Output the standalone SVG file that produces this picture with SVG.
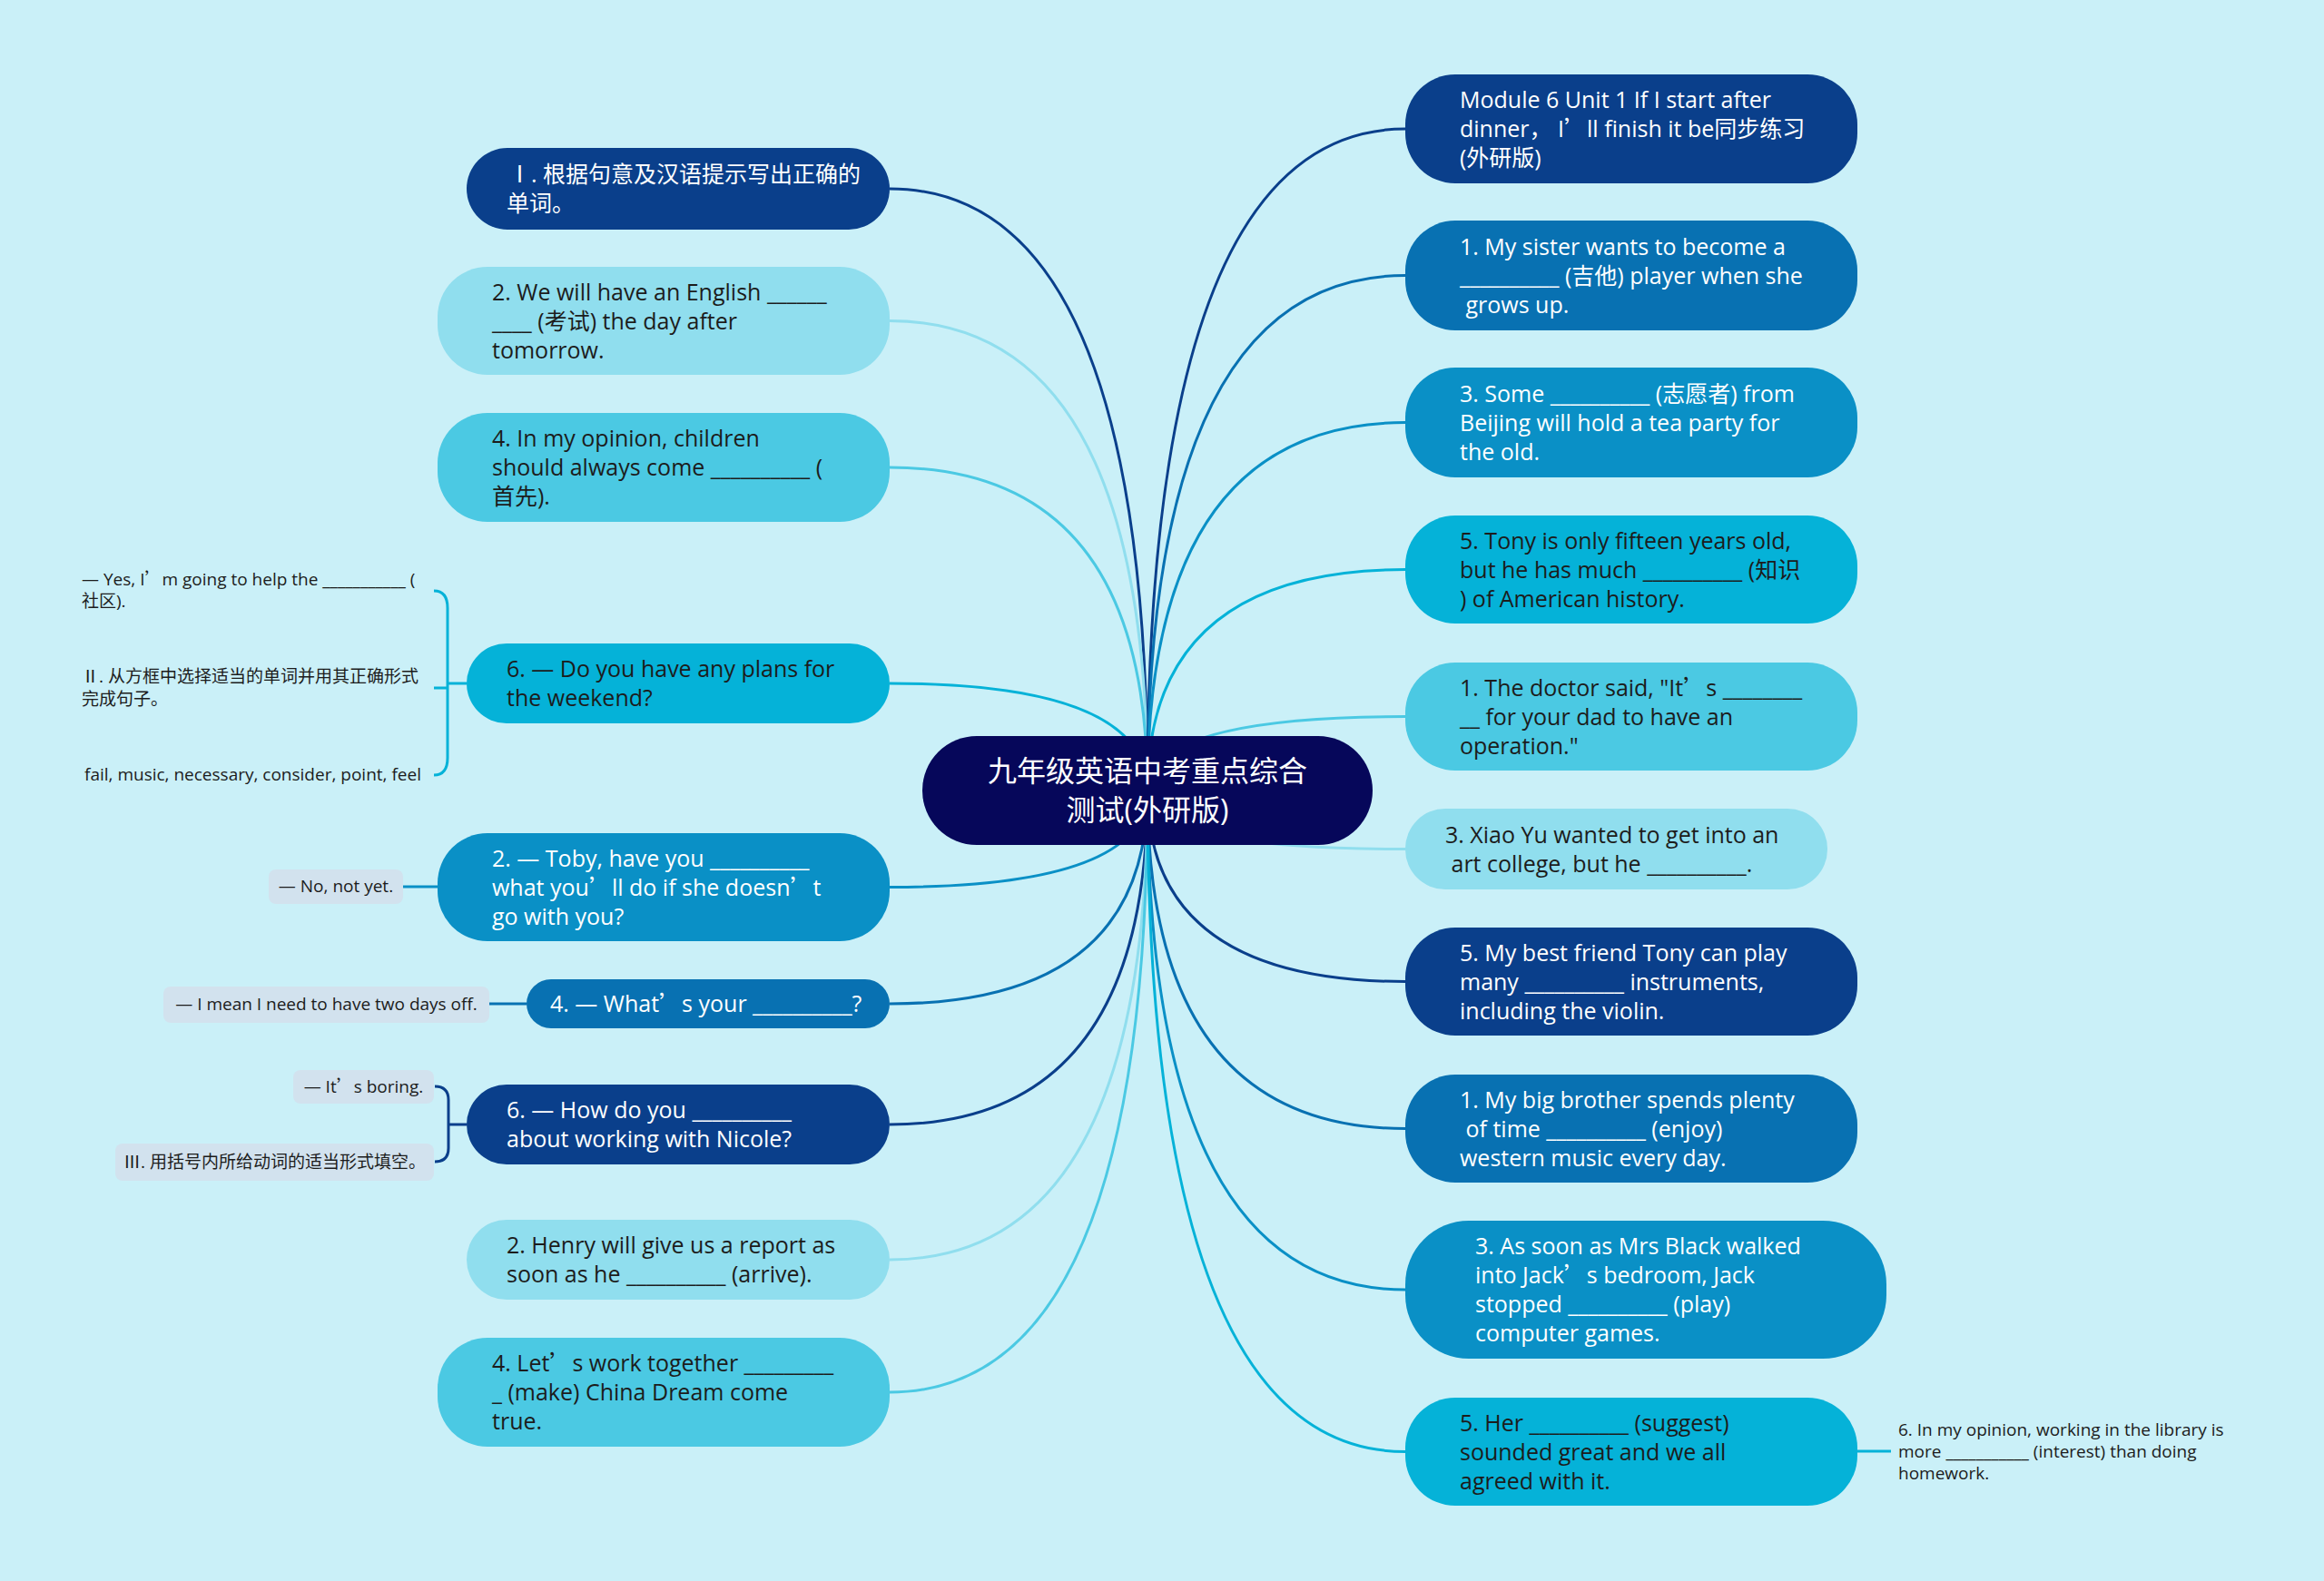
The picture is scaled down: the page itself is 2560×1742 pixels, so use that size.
<svg xmlns="http://www.w3.org/2000/svg" width="2560" height="1742" viewBox="0 0 2560 1742">
<style>
text{font-family:"Open Sans","Noto Sans CJK SC",sans-serif}
.t{font-size:25px}
.w{fill:#ffffff}
.d{fill:#1c1c1c}
.s{font-size:19px;fill:#1c1c1c}
.q{font-family:"Noto Sans CJK SC",sans-serif}
.ln{fill:none;stroke-width:3}
.c1{fill:#0a3f8b}.c2{fill:#0871b2}.c3{fill:#0a90c6}.c4{fill:#05b2d8}.c5{fill:#4bc9e3}.c6{fill:#90deee}
.k1{stroke:#0a3f8b}.k2{stroke:#0871b2}.k3{stroke:#0a90c6}.k4{stroke:#05b2d8}.k5{stroke:#4bc9e3}.k6{stroke:#90deee}
.box{fill:#d2e2ee}
</style>
<rect x="0" y="0" width="2560" height="1742" fill="#caf0f8"/>
<g id="connectors">
<path class="ln k1" d="M1264 871 Q1264 208 980 208"/>
<path class="ln k6" d="M1264 871 Q1264 353.5 980 353.5"/>
<path class="ln k5" d="M1264 871 Q1264 515 980 515"/>
<path class="ln k4" d="M1264 871 Q1264 753 980 753"/>
<path class="ln k3" d="M1264 871 Q1264 977.5 980 977.5"/>
<path class="ln k2" d="M1264 871 Q1264 1106 980 1106"/>
<path class="ln k1" d="M1264 871 Q1264 1239 980 1239"/>
<path class="ln k6" d="M1264 871 Q1264 1388 980 1388"/>
<path class="ln k5" d="M1264 871 Q1264 1534 980 1534"/>
<path class="ln k1" d="M1264 871 Q1264 142 1548 142"/>
<path class="ln k2" d="M1264 871 Q1264 303.5 1548 303.5"/>
<path class="ln k3" d="M1264 871 Q1264 465.5 1548 465.5"/>
<path class="ln k4" d="M1264 871 Q1264 627.5 1548 627.5"/>
<path class="ln k5" d="M1264 871 Q1264 789.5 1548 789.5"/>
<path class="ln k6" d="M1264 871 Q1264 935.5 1548 935.5"/>
<path class="ln k1" d="M1264 871 Q1264 1081.5 1548 1081.5"/>
<path class="ln k2" d="M1264 871 Q1264 1243.5 1548 1243.5"/>
<path class="ln k3" d="M1264 871 Q1264 1421 1548 1421"/>
<path class="ln k4" d="M1264 871 Q1264 1599.5 1548 1599.5"/>
<path class="ln k4" d="M514 753 L493 753 M493 753 L493 670 Q493 651 478 651 M493 758 L478 758 M493 753 L493 835 Q493 854 478 854"/>
<path class="ln k3" d="M482 977 L444 977"/>
<path class="ln k2" d="M580 1106 L539 1106"/>
<path class="ln k1" d="M514 1239 L494 1239 M494 1239 L494 1212 Q494 1197 479 1197 M494 1239 L494 1265 Q494 1280 479 1280"/>
<path class="ln k4" d="M2046 1599 L2083 1599"/>
</g>
<g id="center">
<rect x="1016" y="811" width="496" height="120" rx="60" fill="#06075a"/>
<text x="1264" y="861" font-size="32" fill="#ffffff" text-anchor="middle">九年级英语中考重点综合</text>
<text x="1264" y="904" font-size="32" fill="#ffffff" text-anchor="middle">测试(外研版)</text>
</g>
<g id="n1">
<rect class="c1" x="514" y="163" width="466" height="90" rx="45"/>
<text class="t w"><tspan x="560" y="201">Ⅰ. 根据句意及汉语提示写出正确的</tspan><tspan x="558" y="233">单词。</tspan></text>
</g>
<g id="n2">
<rect class="c6" x="482" y="294" width="498" height="119" rx="55"/>
<text class="t d"><tspan x="542" y="330.5">2. We will have an English ______</tspan><tspan x="542" y="362.5">____ (考试) the day after</tspan><tspan x="542" y="394.5">tomorrow.</tspan></text>
</g>
<g id="n3">
<rect class="c5" x="482" y="455" width="498" height="120" rx="55"/>
<text class="t d"><tspan x="542" y="492">4. In my opinion, children</tspan><tspan x="542" y="524">should always come __________ (</tspan><tspan x="542" y="556">首先).</tspan></text>
</g>
<g id="n4">
<rect class="c4" x="514" y="709" width="466" height="88" rx="44"/>
<text class="t d"><tspan x="558" y="746">6. — Do you have any plans for</tspan><tspan x="558" y="778">the weekend?</tspan></text>
</g>
<g id="n4a">
<text class="s"><tspan x="90" y="645">— Yes, I<tspan class="q">’</tspan>m going to help the ___________ (</tspan><tspan x="90" y="669">社区).</tspan></text>
</g>
<g id="n4b">
<text class="s"><tspan x="90" y="752">Ⅱ. 从方框中选择适当的单词并用其正确形式</tspan><tspan x="90" y="777">完成句子。</tspan></text>
</g>
<g id="n4c">
<text class="s" x="93" y="860">fail, music, necessary, consider, point, feel</text>
</g>
<g id="n5">
<rect class="c3" x="482" y="918" width="498" height="119" rx="55"/>
<text class="t w"><tspan x="542" y="954.5">2. — Toby, have you __________</tspan><tspan x="542" y="986.5">what you<tspan class="q">’</tspan>ll do if she doesn<tspan class="q">’</tspan>t</tspan><tspan x="542" y="1018.5">go with you?</tspan></text>
</g>
<g id="n5a">
<rect class="box" x="296" y="958" width="148" height="38" rx="8"/>
<text class="s" x="370" y="983" text-anchor="middle">— No, not yet.</text>
</g>
<g id="n6">
<rect class="c2" x="580" y="1079" width="400" height="54" rx="27"/>
<text class="t w" x="606" y="1115">4. — What<tspan class="q">’</tspan>s your __________?</text>
</g>
<g id="n6a">
<rect class="box" x="180" y="1087" width="359" height="40" rx="8"/>
<text class="s" x="359.5" y="1113" text-anchor="middle">— I mean I need to have two days off.</text>
</g>
<g id="n7">
<rect class="c1" x="514" y="1195" width="466" height="88" rx="44"/>
<text class="t w"><tspan x="558" y="1232">6. — How do you __________</tspan><tspan x="558" y="1264">about working with Nicole?</tspan></text>
</g>
<g id="n7a">
<rect class="box" x="323" y="1179" width="155" height="37" rx="8"/>
<text class="s" x="400.5" y="1204" text-anchor="middle">— It<tspan class="q">’</tspan>s boring.</text>
</g>
<g id="n7b">
<rect class="box" x="127" y="1260" width="351" height="41" rx="8"/>
<text class="s" x="302.5" y="1287" text-anchor="middle">Ⅲ. 用括号内所给动词的适当形式填空。</text>
</g>
<g id="n8">
<rect class="c6" x="514" y="1344" width="466" height="88" rx="44"/>
<text class="t d"><tspan x="558" y="1381">2. Henry will give us a report as</tspan><tspan x="558" y="1413">soon as he __________ (arrive).</tspan></text>
</g>
<g id="n9">
<rect class="c5" x="482" y="1474" width="498" height="120" rx="55"/>
<text class="t d"><tspan x="542" y="1511">4. Let<tspan class="q">’</tspan>s work together _________</tspan><tspan x="542" y="1543">_ (make) China Dream come</tspan><tspan x="542" y="1575">true.</tspan></text>
</g>
<g id="r1">
<rect class="c1" x="1548" y="82" width="498" height="120" rx="55"/>
<text class="t w"><tspan x="1608" y="119">Module 6 Unit 1 If I start after</tspan><tspan x="1608" y="151">dinner， I<tspan class="q">’</tspan>ll finish it be同步练习</tspan><tspan x="1608" y="183">(外研版)</tspan></text>
</g>
<g id="r2">
<rect class="c2" x="1548" y="243" width="498" height="121" rx="55"/>
<text class="t w"><tspan x="1608" y="280.5">1. My sister wants to become a</tspan><tspan x="1608" y="312.5">__________ (吉他) player when she</tspan><tspan x="1608" y="344.5"> grows up.</tspan></text>
</g>
<g id="r3">
<rect class="c3" x="1548" y="405" width="498" height="121" rx="55"/>
<text class="t w"><tspan x="1608" y="442.5">3. Some __________ (志愿者) from</tspan><tspan x="1608" y="474.5">Beijing will hold a tea party for</tspan><tspan x="1608" y="506.5">the old.</tspan></text>
</g>
<g id="r4">
<rect class="c4" x="1548" y="568" width="498" height="119" rx="55"/>
<text class="t d"><tspan x="1608" y="604.5">5. Tony is only fifteen years old,</tspan><tspan x="1608" y="636.5">but he has much __________ (知识</tspan><tspan x="1608" y="668.5">) of American history.</tspan></text>
</g>
<g id="r5">
<rect class="c5" x="1548" y="730" width="498" height="119" rx="55"/>
<text class="t d"><tspan x="1608" y="766.5">1. The doctor said, "It<tspan class="q">’</tspan>s ________</tspan><tspan x="1608" y="798.5">__ for your dad to have an</tspan><tspan x="1608" y="830.5">operation."</tspan></text>
</g>
<g id="r6">
<rect class="c6" x="1548" y="891" width="465" height="89" rx="44"/>
<text class="t d"><tspan x="1592" y="928.5">3. Xiao Yu wanted to get into an</tspan><tspan x="1592" y="960.5"> art college, but he __________.</tspan></text>
</g>
<g id="r7">
<rect class="c1" x="1548" y="1022" width="498" height="119" rx="55"/>
<text class="t w"><tspan x="1608" y="1058.5">5. My best friend Tony can play</tspan><tspan x="1608" y="1090.5">many __________ instruments,</tspan><tspan x="1608" y="1122.5">including the violin.</tspan></text>
</g>
<g id="r8">
<rect class="c2" x="1548" y="1184" width="498" height="119" rx="55"/>
<text class="t w"><tspan x="1608" y="1220.5">1. My big brother spends plenty</tspan><tspan x="1608" y="1252.5"> of time __________ (enjoy)</tspan><tspan x="1608" y="1284.5">western music every day.</tspan></text>
</g>
<g id="r9">
<rect class="c3" x="1548" y="1345" width="530" height="152" rx="70"/>
<text class="t w"><tspan x="1625" y="1382">3. As soon as Mrs Black walked</tspan><tspan x="1625" y="1414">into Jack<tspan class="q">’</tspan>s bedroom, Jack</tspan><tspan x="1625" y="1446">stopped __________ (play)</tspan><tspan x="1625" y="1478">computer games.</tspan></text>
</g>
<g id="r10">
<rect class="c4" x="1548" y="1540" width="498" height="119" rx="55"/>
<text class="t d"><tspan x="1608" y="1576.5">5. Her __________ (suggest)</tspan><tspan x="1608" y="1608.5">sounded great and we all</tspan><tspan x="1608" y="1640.5">agreed with it.</tspan></text>
</g>
<g id="r10a">
<text class="s"><tspan x="2091" y="1582">6. In my opinion, working in the library is</tspan><tspan x="2091" y="1606">more ___________ (interest) than doing</tspan><tspan x="2091" y="1630">homework.</tspan></text>
</g>
</svg>
